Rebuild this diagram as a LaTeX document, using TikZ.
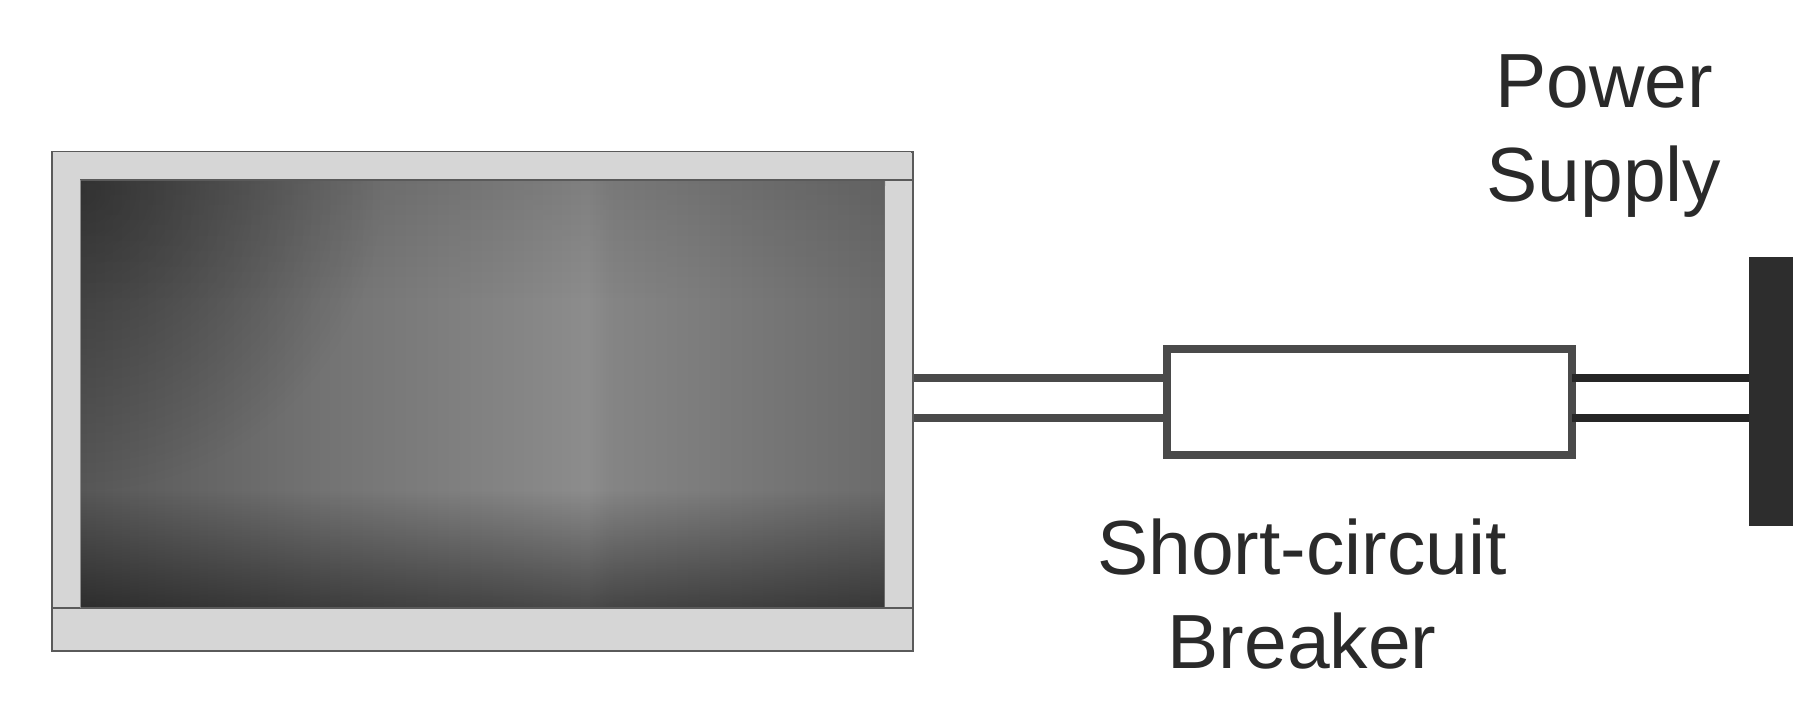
\documentclass[tikz,border=0pt]{standalone}
\usepackage{fontspec}
\setmainfont{Liberation Sans}
\usetikzlibrary{fadings}
\definecolor{bezel}{HTML}{D6D6D6}
\definecolor{framec}{HTML}{5A5A5A}
\definecolor{wireL}{HTML}{4A4A4A}
\definecolor{wireR}{HTML}{262626}
\definecolor{supplyc}{HTML}{2D2D2D}
\definecolor{labelc}{HTML}{2A2A2A}
\pgfdeclarehorizontalshading{panelshade}{100bp}{
  color(0bp)=(black!66);
  color(25bp)=(black!66);
  color(40bp)=(black!55);
  color(52bp)=(black!48);
  color(56.5bp)=(black!45);
  color(58bp)=(black!48);
  color(75bp)=(black!58);
  color(100bp)=(black!58)}
\tikzfading[name=bottomfade,bottom color=transparent!0,top color=transparent!100]
\tikzfading[name=topfade,top color=transparent!25,bottom color=transparent!100]
\tikzfading[name=cornerfade,inner color=transparent!40,outer color=transparent!100]
\tikzset{
  x=0.5pt,y=-0.5pt,
  bezelbar/.style={fill=bezel,draw=framec,line width=1.2pt},
  wireleft/.style={draw=wireL,line width=4pt},
  wireright/.style={draw=wireR,line width=4pt},
  lab/.style={text=labelc,font=\fontsize{38.4pt}{47pt}\selectfont,align=center,inner sep=0pt}
}
\begin{document}
\begin{tikzpicture}
\useasboundingbox (0,0) rectangle (1793,710);
\fill[white] (0,0) rectangle (1793,710);
% panel
\node[bezelbar,minimum width=430.5pt,minimum height=249.5pt,inner sep=0pt,anchor=north west] (panel) at (51,151) {};
\path[shading=panelshade,shading angle=0] (80,180) rectangle (885,608);
\fill[black,opacity=0.48,path fading=bottomfade] (80,490) rectangle (885,608);
\begin{scope}
\clip (80,180) rectangle (885,490);
\fill[black,opacity=0.6,path fading=cornerfade] (-220,-110) rectangle (380,490);
\end{scope}
\fill[black,opacity=0.12,path fading=topfade] (80,180) rectangle (885,300);
\fill[bezel] (885,186) rectangle (911,607);
\fill[bezel] (52.5,152.5) rectangle (80,607);
\fill[bezel] (52.5,152.5) rectangle (911,180);
\draw[framec,line width=1.2pt] (52,608) -- (912,608);
\draw[framec,line width=1.2pt] (80,180) -- (912,180);
\draw[black!45,line width=.5pt] (80,180) -- (80,608);
% breaker and supply
\node[draw=wireL,line width=3.7pt,fill=white,minimum width=202.5pt,minimum height=53pt,inner sep=0pt,anchor=north west,outer sep=0pt] (breaker) at (1167,349) {};
\node[fill=supplyc,minimum width=22pt,minimum height=134.5pt,inner sep=0pt,anchor=north west,outer sep=0pt] (supply) at (1749,257) {};
% connectors
\coordinate (pa) at (panel.east |- 0,378);
\coordinate (pb) at (panel.east |- 0,418);
\coordinate (ba) at (breaker.west |- 0,378);
\coordinate (bb) at (breaker.west |- 0,418);
\coordinate (ca) at (breaker.east |- 0,378);
\coordinate (cb) at (breaker.east |- 0,418);
\coordinate (sa) at (supply.west |- 0,378);
\coordinate (sb) at (supply.west |- 0,418);
\draw[wireleft] (pa) -- (ba);
\draw[wireleft] (pb) -- (bb);
\draw[wireright] (ca) -- (sa);
\draw[wireright] (cb) -- (sb);
% labels
\node[lab] (lsupply) at (1604,136) {Power\\Supply};
\node[lab] (lbreaker) at (1302,594) {Short-circuit\\Breaker};
\end{tikzpicture}
\end{document}
